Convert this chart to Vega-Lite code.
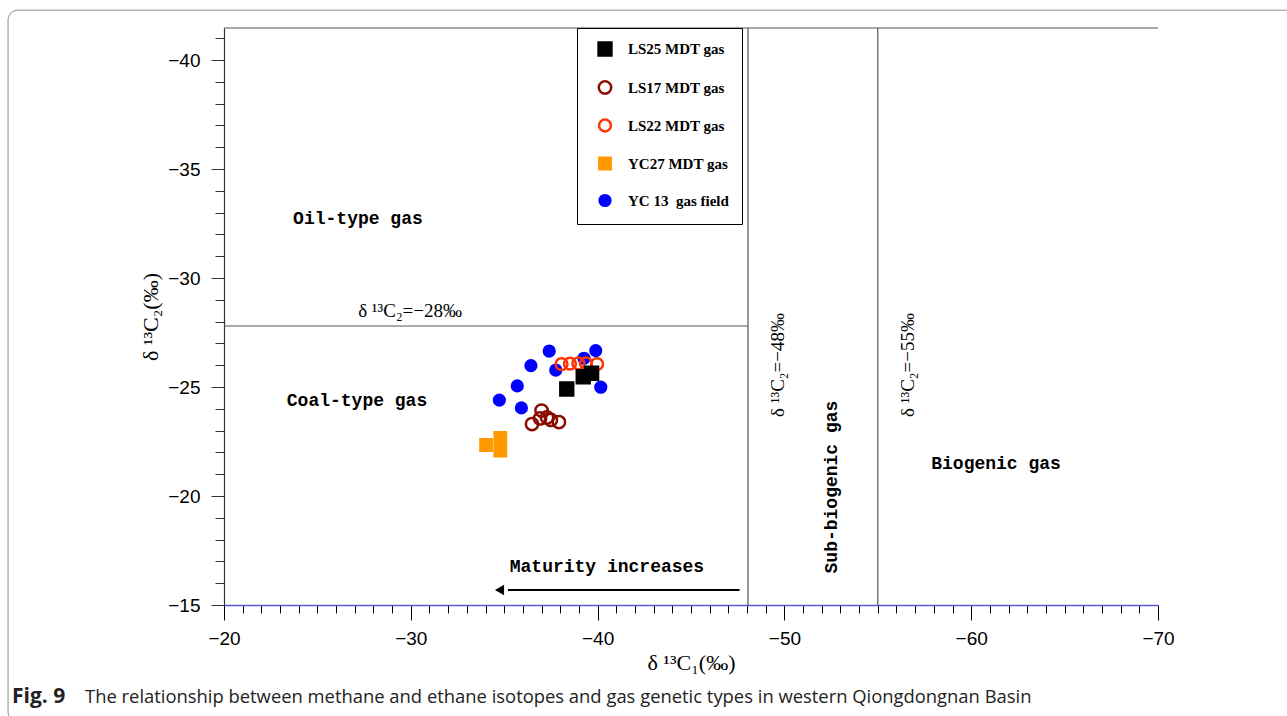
{
  "$schema": "https://vega.github.io/schema/vega-lite/v6.json",
  "width": 934,
  "height": 577,
  "autosize": {"type": "none"},
  "padding": {"left": 224, "top": 28, "right": 129, "bottom": 111},
  "background": "white",
  "config": {"view": {"stroke": null}, "axis": {"grid": false}},
  "datasets": {
    "pts": [
      {"series": "YC 13\u00a0 gas field", "x": -34.74, "y": -24.40},
      {"series": "YC 13\u00a0 gas field", "x": -35.70, "y": -25.05},
      {"series": "YC 13\u00a0 gas field", "x": -35.92, "y": -24.04},
      {"series": "YC 13\u00a0 gas field", "x": -36.43, "y": -25.98},
      {"series": "YC 13\u00a0 gas field", "x": -37.41, "y": -26.65},
      {"series": "YC 13\u00a0 gas field", "x": -37.76, "y": -25.78},
      {"series": "YC 13\u00a0 gas field", "x": -39.27, "y": -26.32},
      {"series": "YC 13\u00a0 gas field", "x": -39.90, "y": -26.67},
      {"series": "YC 13\u00a0 gas field", "x": -40.17, "y": -24.99},
      {"series": "LS17 MDT gas", "x": -36.49, "y": -23.30},
      {"series": "LS17 MDT gas", "x": -37.00, "y": -23.92},
      {"series": "LS17 MDT gas", "x": -36.92, "y": -23.56},
      {"series": "LS17 MDT gas", "x": -37.29, "y": -23.60},
      {"series": "LS17 MDT gas", "x": -37.50, "y": -23.49},
      {"series": "LS17 MDT gas", "x": -37.93, "y": -23.39},
      {"series": "LS22 MDT gas", "x": -38.07, "y": -26.05},
      {"series": "LS22 MDT gas", "x": -38.52, "y": -26.07},
      {"series": "LS22 MDT gas", "x": -38.97, "y": -26.08},
      {"series": "LS22 MDT gas", "x": -39.38, "y": -26.08},
      {"series": "LS22 MDT gas", "x": -39.97, "y": -26.05},
      {"series": "LS25 MDT gas", "x": -38.35, "y": -24.91},
      {"series": "LS25 MDT gas", "x": -39.23, "y": -25.47},
      {"series": "LS25 MDT gas", "x": -39.68, "y": -25.63},
      {"series": "YC27 MDT gas", "x": -34.03, "y": -22.34},
      {"series": "YC27 MDT gas", "x": -34.79, "y": -22.67},
      {"series": "YC27 MDT gas", "x": -34.79, "y": -22.08}
    ],
    "lines": [
      {"x": -48.05, "x2": -48.05, "y": -15, "y2": -41.47},
      {"x": -55.0, "x2": -55.0, "y": -15, "y2": -41.47},
      {"x": -20, "x2": -48.05, "y": -27.8, "y2": -27.8},
      {"x": -20, "x2": -70, "y": -41.47, "y2": -41.47}
    ],
    "arrow": [{"x": -47.6, "x2": -35.2, "y": -15.69}],
    "arrowhead": [{"x": -34.75, "y": -15.69}],
    "monoNotes": [
      {"x": -27.17, "y": -32.71, "label": "Oil-type gas"},
      {"x": -27.12, "y": -24.36, "label": "Coal-type gas"},
      {"x": -40.5, "y": -16.74, "label": "Maturity increases"},
      {"x": -61.33, "y": -21.47, "label": "Biogenic gas"}
    ],
    "serifNotes": [
      {"x": -29.96, "y": -28.49, "label": "δ ¹³C₂=−28‰"}
    ],
    "vSerifNotes": [
      {"x": -49.66, "y": -26.01, "label": "δ ¹³C₂=−48‰"},
      {"x": -56.62, "y": -26.01, "label": "δ ¹³C₂=−55‰"}
    ],
    "vMonoNotes": [
      {"x": -52.55, "y": -20.41, "label": "Sub-biogenic gas"}
    ],
    "capBold": [{"x": -8.65, "y": -10.78, "label": "Fig. 9"}],
    "capText": [{"x": -12.56, "y": -10.78, "label": "The relationship between methane and ethane isotopes and gas genetic types in western Qiongdongnan Basin"}],
    "frame": [{"x": -8.44, "x2": -77.6, "y": -42.29, "y2": -9.63}]
  },
  "encoding": {
    "x": {
      "field": "x", "type": "quantitative",
      "scale": {"domain": [-70, -20], "reverse": true, "nice": false, "zero": false},
      "axis": {
        "title": "δ ¹³C₁(‰)",
        "titleFont": "Liberation Serif", "titleFontSize": 22, "titleFontWeight": "normal", "titleColor": "black", "titlePadding": 4,
        "values": [-20,-21,-22,-23,-24,-25,-26,-27,-28,-29,-30,-31,-32,-33,-34,-35,-36,-37,-38,-39,-40,-41,-42,-43,-44,-45,-46,-47,-48,-49,-50,-51,-52,-53,-54,-55,-56,-57,-58,-59,-60,-61,-62,-63,-64,-65,-66,-67,-68,-69,-70],
        "labelExpr": "datum.value % 10 === 0 ? datum.label : ''",
        "labelFont": "Liberation Sans", "labelFontSize": 19, "labelColor": "black", "labelPadding": 9,
        "labelFlush": false, "labelOverlap": false,
        "tickSize": {"condition": {"test": "datum.value % 10 === 0", "value": 15}, "value": 8},
        "tickColor": "black", "tickWidth": 1,
        "domainColor": "#5a5ad0", "domainWidth": 1.5
      }
    },
    "y": {
      "field": "y", "type": "quantitative",
      "scale": {"domain": [-41.47, -15], "reverse": true, "nice": false, "zero": false},
      "axis": {
        "title": "δ ¹³C₂(‰)",
        "titleFont": "Liberation Serif", "titleFontSize": 22, "titleFontWeight": "normal", "titleColor": "black", "titlePadding": 5,
        "values": [-15,-16,-17,-18,-19,-20,-21,-22,-23,-24,-25,-26,-27,-28,-29,-30,-31,-32,-33,-34,-35,-36,-37,-38,-39,-40,-41],
        "labelExpr": "datum.value % 5 === 0 ? datum.label : ''",
        "labelFont": "Liberation Sans", "labelFontSize": 19, "labelColor": "black", "labelPadding": 11,
        "labelFlush": false, "labelOverlap": false,
        "tickSize": {"condition": {"test": "datum.value % 5 === 0", "value": 13}, "value": 9},
        "tickColor": "#333333", "tickWidth": 1,
        "domainColor": "#333333", "domainWidth": 1.2
      }
    }
  },
  "layer": [
    {
      "data": {"name": "frame"},
      "mark": {"type": "rect", "fill": null, "stroke": "#8c8c8c", "strokeWidth": 1, "cornerRadius": 10, "clip": false},
      "encoding": {"x2": {"field": "x2"}, "y2": {"field": "y2"}}
    },
    {
      "data": {"name": "lines"},
      "mark": {"type": "rule", "color": "#555555", "strokeWidth": 1.2},
      "encoding": {"x2": {"field": "x2"}, "y2": {"field": "y2"}}
    },
    {
      "data": {"name": "arrow"},
      "mark": {"type": "rule", "color": "black", "strokeWidth": 2},
      "encoding": {"x2": {"field": "x2"}}
    },
    {
      "data": {"name": "arrowhead"},
      "mark": {"type": "point", "shape": "triangle-left", "filled": true, "color": "black", "opacity": 1, "size": 110},
      "encoding": {}
    },
    {
      "data": {"name": "monoNotes"},
      "mark": {"type": "text", "font": "Liberation Mono", "fontSize": 18, "fontWeight": "bold", "color": "black", "align": "center", "baseline": "middle"},
      "encoding": {"text": {"field": "label"}}
    },
    {
      "data": {"name": "serifNotes"},
      "mark": {"type": "text", "font": "Liberation Serif", "fontSize": 19, "color": "black", "align": "center", "baseline": "middle"},
      "encoding": {"text": {"field": "label"}}
    },
    {
      "data": {"name": "vSerifNotes"},
      "mark": {"type": "text", "font": "Liberation Serif", "fontSize": 19, "color": "black", "align": "center", "baseline": "middle", "angle": 270},
      "encoding": {"text": {"field": "label"}}
    },
    {
      "data": {"name": "vMonoNotes"},
      "mark": {"type": "text", "font": "Liberation Mono", "fontSize": 18, "fontWeight": "bold", "color": "black", "align": "center", "baseline": "middle", "angle": 270},
      "encoding": {"text": {"field": "label"}}
    },
    {
      "data": {"name": "capBold"},
      "mark": {"type": "text", "font": "Open Sans", "fontSize": 21, "fontWeight": "bold", "color": "#222222", "align": "left", "baseline": "middle", "clip": false},
      "encoding": {"text": {"field": "label"}}
    },
    {
      "data": {"name": "capText"},
      "mark": {"type": "text", "font": "Open Sans", "fontSize": 18.4, "color": "#222222", "align": "left", "baseline": "middle", "clip": false},
      "encoding": {"text": {"field": "label"}}
    },
    {
      "data": {"name": "pts"},
      "mark": {"type": "point", "strokeWidth": 2.5, "opacity": 1},
      "encoding": {
        "shape": {
          "field": "series", "type": "nominal",
          "scale": {"domain": ["LS25 MDT gas", "LS17 MDT gas", "LS22 MDT gas", "YC27 MDT gas", "YC 13\u00a0 gas field"], "range": ["square", "circle", "circle", "square", "circle"]},
          "legend": {
            "title": null, "orient": "none", "legendX": 353, "legendY": 0,
            "strokeColor": "black", "fillColor": "white", "padding": 13,
            "rowPadding": 15, "labelOffset": 15, "symbolOffset": 7,
            "labelFont": "Liberation Serif", "labelFontSize": 15, "labelFontWeight": "bold",
            "symbolStrokeWidth": 2.5,
            "encode": {"labels": {"update": {"fill": {"signal": "datum.value === 'LS25 MDT gas' ? '#1c1c3c' : datum.value === 'LS17 MDT gas' ? '#c8461e' : datum.value === 'LS22 MDT gas' ? '#ff3c1e' : datum.value === 'YC27 MDT gas' ? '#ffa01e' : '#1e1ef0'"}}}}
          }
        },
        "fill": {
          "field": "series", "type": "nominal",
          "scale": {"domain": ["LS25 MDT gas", "LS17 MDT gas", "LS22 MDT gas", "YC27 MDT gas", "YC 13\u00a0 gas field"], "range": ["#000000", "transparent", "transparent", "#ff9900", "#0000ff"]}
        },
        "stroke": {
          "field": "series", "type": "nominal",
          "scale": {"domain": ["LS25 MDT gas", "LS17 MDT gas", "LS22 MDT gas", "YC27 MDT gas", "YC 13\u00a0 gas field"], "range": ["#000000", "#8a0c00", "#ff3300", "#ff9900", "#0000ff"]}
        },
        "size": {
          "field": "series", "type": "nominal",
          "scale": {"domain": ["LS25 MDT gas", "LS17 MDT gas", "LS22 MDT gas", "YC27 MDT gas", "YC 13\u00a0 gas field"], "range": [165, 115, 165, 165, 235]}
        }
      }
    }
  ]
}
